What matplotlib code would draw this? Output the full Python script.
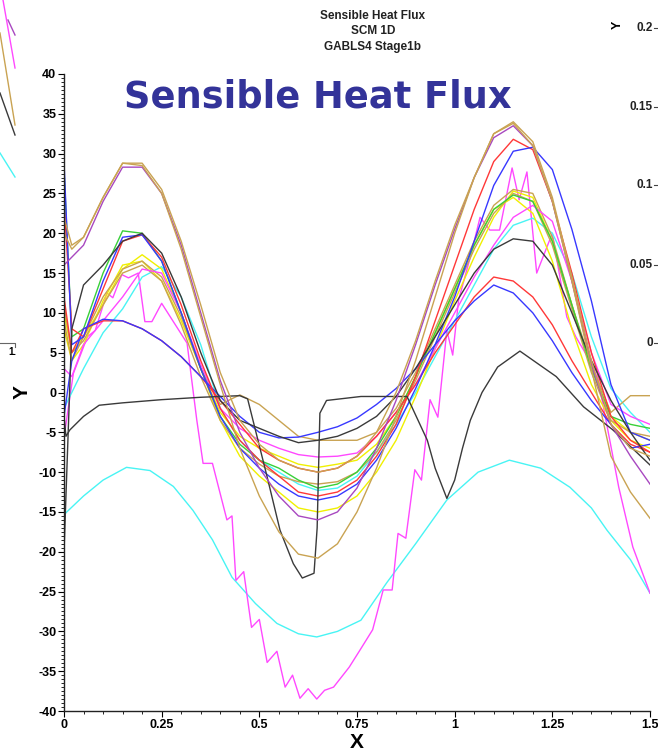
import matplotlib
matplotlib.use("Agg")
import matplotlib.pyplot as plt
from matplotlib.ticker import MultipleLocator, AutoMinorLocator
from matplotlib.lines import Line2D

plt.rcParams['axes.unicode_minus'] = False
plt.rcParams['font.family'] = ['Liberation Sans', 'DejaVu Sans']

# shared x grid for the smooth model curves
XG = [0, 0.02, 0.05, 0.10, 0.15, 0.20, 0.25, 0.30, 0.35, 0.40, 0.45, 0.50, 0.55, 0.60,
      0.65, 0.70, 0.75, 0.80, 0.85, 0.90, 0.95, 1.00, 1.05, 1.10, 1.15, 1.20, 1.25, 1.30,
      1.35, 1.40, 1.45, 1.50]

tan_a = [22, 18.5, 19.5, 24.5, 28.8, 28.5, 25, 18, 9.5, 1, -7, -13, -17.5, -20.3,
         -20.8, -19, -15, -9.5, -3, 4, 12, 20, 27, 32.5, 33.8, 31, 24, 14,
         3, -8, -12.5, -15.8]
tan_b = [20, 18, 19.5, 24.5, 28.8, 28.8, 25.5, 19, 11, 2.5, -3.5, -6.5, -8.5, -9.5,
         -10, -9.5, -8, -5, 0, 6.5, 14, 21, 27, 32.5, 34, 31.5, 24.5, 14.5,
         4, -4, -7, -8]
tan_c = [9, 4, 7, 12, 15.5, 16.5, 14.5, 9.5, 3, -1.5, -0.3, -1.5, -3.5, -5.5,
         -6, -6, -6, -5, -2, 2.5, 8, 13.5, 19, 23.5, 25.5, 25, 19.5, 11,
         3.5, -2.5, -0.4, -0.4]
tan_d = [11, 5, 6.5, 11, 15, 16, 14, 8.5, 2, -3.5, -7, -9, -10.5, -11.2,
         -11.5, -11.2, -10, -7.5, -3.5, 1.5, 7, 12.5, 18, 22.5, 25, 24, 18.5, 10.5,
         2.5, -3.5, -5, -5.5]
purple = [16, 17, 18.5, 24, 28.3, 28.3, 25, 18.5, 10, 1.5, -5, -9.5, -13, -15.5,
          -16, -15, -12, -7, -1, 6, 13.5, 20.5, 27, 32, 33.5, 31, 24, 14,
          3.5, -4, -8, -11.5]
red_a = [24, 8, 7, 13, 19, 19.8, 17, 11, 4, -2, -6, -8.5, -10.5, -12.5,
         -13, -12.5, -11, -8, -4, 2, 9, 16, 23, 29, 31.8, 30.5, 24, 15,
         5, -3, -6, -7.5]
red_b = [12, 5, 8, 9, 9, 8, 6.5, 4.5, 2, -1, -4, -7, -8.5, -9.5,
         -10, -9.5, -8, -5.5, -2.5, 1, 5, 8.5, 12, 14.5, 14, 12, 8.5, 4,
         0, -4, -6.5, -7.5]
green = [28, 7, 8, 15, 20.3, 20, 16.5, 10, 3, -3, -6.5, -8.5, -9.5, -11,
         -12, -11.5, -10, -7, -3, 2, 7.5, 13, 18.5, 23, 24.8, 24, 19, 11,
         3, -3, -4, -4.5]
blue_a = [29, 6, 7, 14, 19.5, 19.8, 16.5, 10, 3, -3, -7, -9.5, -11.5, -13,
          -13.5, -13, -11.5, -8.5, -4.5, 0.5, 6, 12, 19, 26, 30.3, 30.8, 28, 20.5,
          11.5, 1, -5, -6]
blue_b = [-3, 4, 8, 9.2, 9, 8, 6.5, 4.5, 2, -0.5, -3, -5, -5.7, -5.6,
          -5, -4.3, -3.2, -1.5, 0.5, 3, 6, 9, 11.5, 13.5, 12.5, 10, 6.5, 2.5,
          -1, -4, -7, -6.5]
black_a = [-20, 8, 13.5, 16, 19, 20, 17.5, 12, 5, -1, -3.5, -4.5, -5.5, -6.3,
           -6, -5.5, -4.5, -3, -0.5, 3, 7, 11, 15, 18, 19.3, 19, 16, 10,
           4, -1, -5, -8.5]
yellow_a = [10, 5, 7, 11, 15.5, 17.3, 15.5, 10, 3, -3.5, -8, -10.5, -12.5, -14.5,
            -15, -14.5, -13, -10, -6, -0.5, 5.5, 11.5, 17, 22, 25.3, 24.5, 19, 11,
            3, -3, -5, -6]
yellow_b = [8, 4, 6, 11.5, 16, 16.5, 14, 9, 3, -2.5, -5.5, -7, -8, -9,
            -9.4, -9, -8.5, -6.5, -3, 2, 7.5, 13, 18.5, 23, 24.5, 22.5, 16.5, 8,
            1, -3.5, -6, -7]
magenta_b = [3, 2, 6, 9, 12, 15.5, 15, 10, 3.5, -2, -4.5, -6, -7, -7.8,
             -8.1, -8, -7.6, -5.5, -2.5, 1, 5.5, 10, 14.5, 18.5, 22, 23.5, 21.5, 14,
             5, -1.5, -3, -4]
cyan_a = [-2, 0, 3, 7.5, 10.5, 14.5, 15.8, 12, 6, -2, -6, -8.5, -10, -11.5,
          -12.3, -12, -10.5, -7.5, -4, 0, 4.5, 9, 13.5, 18, 21, 21.9, 20, 15,
          7, 0.5, -2.5, -5]

# curves with their own x samples
black_b_x = [0, 0.005, 0.015, 0.05, 0.09, 0.15, 0.25, 0.35, 0.45, 0.47, 0.52, 0.553,
             0.587, 0.61, 0.64, 0.648, 0.655, 0.672, 0.76, 0.878, 0.93, 0.95, 0.98,
             1.0, 1.02, 1.04, 1.07, 1.11, 1.167, 1.26, 1.33, 1.405, 1.5]
black_b = [-3, -5.5, -4.7, -3, -1.6, -1.3, -0.9, -0.6, -0.4, -0.8, -10.6, -17.3,
           -21.5, -23.3, -22.7, -17, -2.6, -1, -0.5, -0.5, -6, -9.5, -13.3,
           -11, -7, -3.5, 0, 3.2, 5.2, 2, -1.8, -4.7, -9.1]

cyan_b_x = [0, 0.005, 0.05, 0.10, 0.16, 0.22, 0.28, 0.33, 0.38, 0.43, 0.49, 0.545,
            0.60, 0.647, 0.70, 0.76, 0.826, 0.90, 0.98, 1.06, 1.14, 1.22, 1.295,
            1.35, 1.39, 1.45, 1.5]
cyan_b = [-15.5, -15.1, -13, -11, -9.4, -9.8, -11.8, -14.8, -18.5, -23.2, -26.5, -29,
          -30.3, -30.7, -30, -28.6, -23.9, -19, -13.5, -10, -8.5, -9.5, -11.9,
          -14.5, -17.3, -21, -25.2]

zig_x = [0, 0.024, 0.06, 0.08, 0.11, 0.125, 0.148, 0.165, 0.19, 0.207, 0.225, 0.25,
         0.315, 0.34, 0.356, 0.38, 0.417, 0.43, 0.44, 0.46, 0.48, 0.50, 0.52, 0.545,
         0.566, 0.585, 0.604, 0.625, 0.647, 0.667, 0.69, 0.73, 0.757, 0.79, 0.817,
         0.84, 0.855, 0.875, 0.898, 0.915, 0.937, 0.957, 0.98, 0.995, 1.01, 1.04,
         1.065, 1.09, 1.115, 1.147, 1.165, 1.185, 1.21, 1.25, 1.287, 1.31, 1.364,
         1.42, 1.456, 1.5]
zig = [-5.6, 2.4, 7, 7.8, 12.5, 11.9, 14.8, 14.4, 15, 8.9, 8.9, 11.2,
       6.2, -3.5, -8.9, -8.9, -16, -15.5, -23.6, -22.5, -29.5, -28.5, -33.9, -32.5,
       -37, -35.5, -38.4, -37.2, -38.5, -37.4, -37, -34.5, -32.4, -29.8, -24.8,
       -24.8, -17.7, -18.3, -9.7, -11, -0.9, -3.1, 7.8, 4.7, 11.6, 17,
       22, 20.4, 20.4, 28.2, 24.2, 27.7, 15, 20, 9.5, 7, 2.5,
       -11.9, -19.4, -25.2]

TAN = '#c9a352'
PURPLE = '#a848c0'
MAGENTA = '#ff48ff'
RED = '#ff3838'
BLUE = '#3838ff'
GREEN = '#38d038'
YELLOW = '#f0f000'
CYAN = '#48f4f4'
BLACK = '#3a3a3a'

fig = plt.figure(figsize=(6.58, 7.51), dpi=100)
ax = fig.add_axes([64 / 658, 40 / 751, 586 / 658, 637 / 751])

lw = 1.0
ax.plot(cyan_b_x, cyan_b, color=CYAN, lw=lw)
ax.plot(zig_x, zig, color=MAGENTA, lw=lw)
ax.plot(XG, cyan_a, color=CYAN, lw=lw)
ax.plot(XG, yellow_a, color=YELLOW, lw=lw)
ax.plot(XG, yellow_b, color=YELLOW, lw=lw)
ax.plot(XG, tan_d, color=TAN, lw=lw)
ax.plot(XG, tan_c, color=TAN, lw=lw)
ax.plot(XG, magenta_b, color=MAGENTA, lw=lw)
ax.plot(XG, green, color=GREEN, lw=lw)
ax.plot(XG, red_b, color=RED, lw=lw)
ax.plot(XG, blue_b, color=BLUE, lw=lw)
ax.plot(XG, red_a, color=RED, lw=lw)
ax.plot(XG, blue_a, color=BLUE, lw=lw)
ax.plot(XG, black_a, color=BLACK, lw=lw)
ax.plot(black_b_x, black_b, color=BLACK, lw=lw)
ax.plot(XG, purple, color=PURPLE, lw=lw)
ax.plot(XG, tan_a, color=TAN, lw=lw)
ax.plot(XG, tan_b, color=TAN, lw=lw)

ax.set_xlim(0, 1.5)
ax.set_ylim(-40, 40)
for s in ['top', 'right']:
    ax.spines[s].set_visible(False)
for s in ['left', 'bottom']:
    ax.spines[s].set_linewidth(1.0)
    ax.spines[s].set_color('#222222')

ax.xaxis.set_minor_locator(AutoMinorLocator(5))
ax.yaxis.set_minor_locator(AutoMinorLocator(10))
ax.set_xticks([0, 0.25, 0.5, 0.75, 1, 1.25, 1.5])
ax.set_xticklabels(['0', '0.25', '0.5', '0.75', '1', '1.25', '1.5'])
ax.set_yticks(list(range(-40, 41, 5)))
ax.set_yticklabels([str(v) for v in range(-40, 41, 5)])
ax.yaxis.set_minor_locator(MultipleLocator(0.5))
ax.tick_params(which='major', direction='out', length=4, width=0.8, pad=1.5,
               labelsize=9)
ax.tick_params(which='minor', direction='out', length=2, width=0.6)
for lab in ax.get_xticklabels() + ax.get_yticklabels():
    lab.set_fontweight('bold')

ax.set_xlabel('X', fontsize=15, fontweight='bold', labelpad=2)
fig.text(22 / 658, 1 - 392 / 751, 'Y', ha='center', va='center', rotation=90,
         fontsize=15, fontweight='bold')

# titles
fig.text(373 / 658, 1 - 16 / 751, 'Sensible Heat Flux', ha='center', va='center',
         fontsize=8.5, fontweight='bold', color='#222222')
fig.text(373 / 658, 1 - 31 / 751, 'SCM 1D', ha='center', va='center',
         fontsize=8.5, fontweight='bold', color='#222222')
fig.text(373 / 658, 1 - 47 / 751, 'GABLS4 Stage1b', ha='center', va='center',
         fontsize=8.5, fontweight='bold', color='#222222')
fig.text(318 / 658, 1 - 97 / 751, 'Sensible Heat Flux', ha='center', va='center',
         fontsize=26.5, fontweight='bold', color='#333399', family='DejaVu Sans')

# pieces of the neighbouring windows
fig.text(618 / 658, 1 - 25 / 751, 'Y', ha='center', va='center', rotation=90,
         fontsize=9, fontweight='bold')
right_labels = ['0.2', '0.15', '0.1', '0.05', '0']
right_rows = [28, 107, 185, 265, 343]
for lab, row in zip(right_labels, right_rows):
    fig.text(653 / 658, 1 - row / 751, lab, ha='right', va='center',
             fontsize=8.5, fontweight='bold', color='#222222')
    fig.add_artist(Line2D([654 / 658, 658 / 658], [1 - row / 751] * 2,
                          color='#444444', lw=0.8))

fig.add_artist(Line2D([3 / 658, 15 / 658], [1, 1 - 68 / 751], color=MAGENTA, lw=1))
fig.add_artist(Line2D([8 / 658, 15 / 658], [1 - 20 / 751, 1 - 35 / 751], color=PURPLE, lw=1))
fig.add_artist(Line2D([0, 15 / 658], [1 - 33 / 751, 1 - 125 / 751], color=TAN, lw=1))
fig.add_artist(Line2D([0, 15 / 658], [1 - 93 / 751, 1 - 135 / 751], color=BLACK, lw=1))
fig.add_artist(Line2D([0, 15 / 658], [1 - 153 / 751, 1 - 177 / 751], color=CYAN, lw=1))
fig.add_artist(Line2D([0, 15 / 658, 15 / 658], [1 - 343 / 751, 1 - 343 / 751, 1 - 347 / 751],
                      color='#666666', lw=0.8))
fig.text(12 / 658, 1 - 352 / 751, '1.', ha='center', va='center', fontsize=7,
         fontweight='bold')

fig.savefig('out.png', dpi=100)
